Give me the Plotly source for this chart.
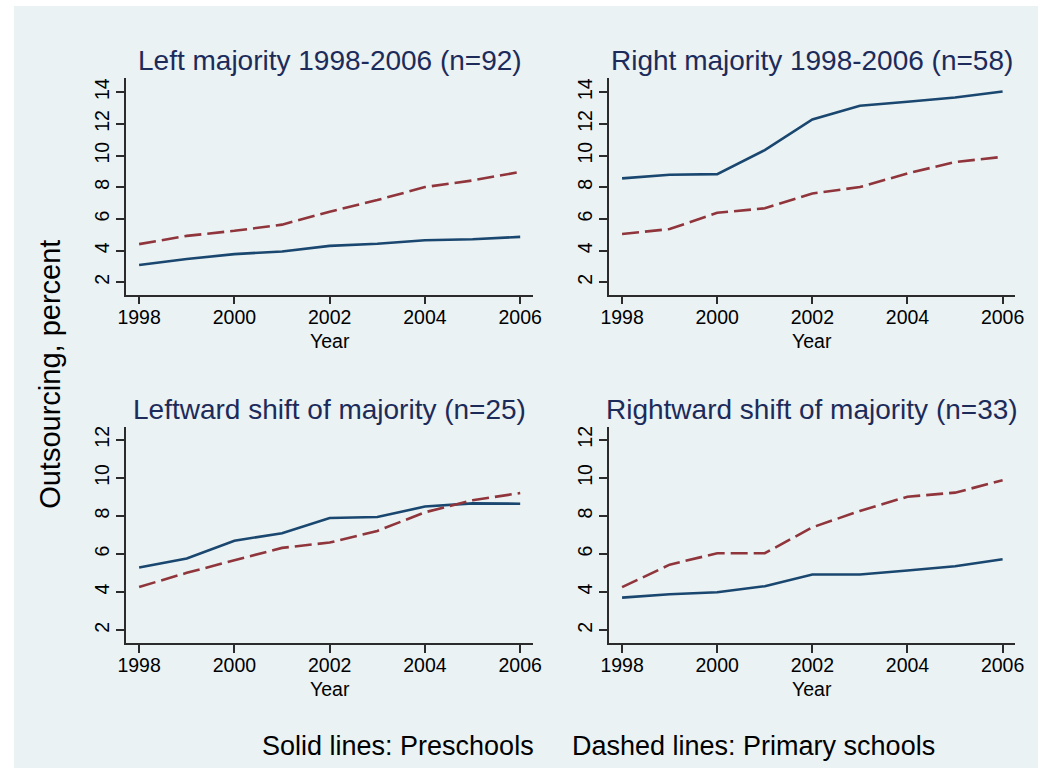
import plotly.graph_objects as go

years = [1998, 1999, 2000, 2001, 2002, 2003, 2004, 2005, 2006]

panel_titles = [
    "Left majority 1998-2006 (n=92)",
    "Right majority 1998-2006 (n=58)",
    "Leftward shift of majority (n=25)",
    "Rightward shift of majority (n=33)",
]

# Solid lines: Preschools
left_pre = [3.09, 3.47, 3.78, 3.95, 4.30, 4.43, 4.66, 4.72, 4.87]
right_pre = [8.56, 8.79, 8.83, 10.34, 12.28, 13.14, 13.39, 13.66, 14.04]
leftshift_pre = [5.29, 5.76, 6.70, 7.09, 7.89, 7.94, 8.49, 8.66, 8.64]
rightshift_pre = [3.71, 3.89, 3.99, 4.31, 4.92, 4.92, 5.13, 5.36, 5.72]

# Dashed lines: Primary schools
left_prim = [4.41, 4.93, 5.25, 5.64, 6.46, 7.19, 8.01, 8.43, 8.97]
right_prim = [5.05, 5.36, 6.39, 6.67, 7.61, 8.01, 8.87, 9.59, 9.92]
leftshift_prim = [4.27, 5.01, 5.67, 6.32, 6.60, 7.21, 8.19, 8.82, 9.20]
rightshift_prim = [4.26, 5.44, 6.04, 6.04, 7.40, 8.26, 9.01, 9.22, 9.87]

x_ticks = [1998, 2000, 2002, 2004, 2006]
y_ticks_top = [2, 4, 6, 8, 10, 12, 14]
y_ticks_bottom = [2, 4, 6, 8, 10, 12]

y_title = "Outsourcing, percent"
x_title = "Year"
footer_solid = "Solid lines: Preschools"
footer_dashed = "Dashed lines: Primary schools"

pre_series = [left_pre, right_pre, leftshift_pre, rightshift_pre]
prim_series = [left_prim, right_prim, leftshift_prim, rightshift_prim]

W, H = 1050, 771
BG = "#eaf2f3"
NAVY = "#1a476f"
MAROON = "#90353b"
TITLE_COL = "#1c2b5a"
AXIS_COL = "#2b2b2b"
FONT = "Liberation Sans, Arial, sans-serif"


def px_x(p):
    return p / W


def px_y(p):
    return 1 - p / H


# panel pixel boxes: (x0, x1, ytop, ybottom)
boxes = [
    (119.3, 533.2, 77.3, 294.0),
    (610.7, 1024.0, 77.3, 294.0),
    (119.3, 533.2, 426.7, 642.7),
    (610.7, 1024.0, 426.7, 642.7),
]
yranges = [[1.225, 14.88], [1.225, 14.88], [1.334, 12.66], [1.334, 12.66]]
yticks = [y_ticks_top, y_ticks_top, y_ticks_bottom, y_ticks_bottom]

fig = go.Figure()
layout = dict(
    width=W,
    height=H,
    margin=dict(l=0, r=0, t=0, b=0),
    paper_bgcolor="white",
    plot_bgcolor="white",
    showlegend=False,
    font=dict(family=FONT, color="black"),
)

annotations = []
for i in range(4):
    x0, x1, yt, yb = boxes[i]
    sfx = "" if i == 0 else str(i + 1)
    xa = "x" + sfx
    ya = "y" + sfx
    fig.add_trace(go.Scatter(
        x=years, y=pre_series[i], mode="lines",
        line=dict(color=NAVY, width=2.6),
        xaxis=xa, yaxis=ya,
    ))
    fig.add_trace(go.Scatter(
        x=years, y=prim_series[i], mode="lines",
        line=dict(color=MAROON, width=2.6, dash="17px,6px"),
        xaxis=xa, yaxis=ya,
    ))
    layout["xaxis" + sfx] = dict(
        domain=[px_x(x0), px_x(x1)],
        anchor=ya,
        range=[1997.73, 2006.27],
        tickvals=x_ticks,
        ticks="outside", ticklen=8, tickwidth=1.5, tickcolor=AXIS_COL,
        ticklabelstandoff=-4,
        showline=True, linecolor=AXIS_COL, linewidth=1.6,
        showgrid=False, zeroline=False,
        tickfont=dict(size=19.5, color="black", family=FONT),
    )
    layout["yaxis" + sfx] = dict(
        domain=[px_y(yb), px_y(yt)],
        anchor=xa,
        range=yranges[i],
        tickvals=yticks[i],
        tickangle=-90,
        ticks="outside", ticklen=8, tickwidth=1.5, tickcolor=AXIS_COL,
        showline=True, linecolor=AXIS_COL, linewidth=1.6,
        showgrid=True, gridcolor=BG, gridwidth=2,
        zeroline=False,
        tickfont=dict(size=19.5, color="black", family=FONT),
    )
    # panel title
    annotations.append(dict(
        text=panel_titles[i], xref="paper", yref="paper",
        x=px_x((x0 + x1) / 2), y=px_y(yt - 17.5),
        xanchor="center", yanchor="middle", showarrow=False,
        font=dict(size=28, color=TITLE_COL, family=FONT),
    ))
    # x axis title
    annotations.append(dict(
        text=x_title, xref="paper", yref="paper",
        x=px_x(x0 + (x1 - x0) / 2), y=px_y(yb + 46),
        xanchor="center", yanchor="middle", showarrow=False,
        font=dict(size=19.5, color="black", family=FONT),
    ))

annotations.append(dict(
    text=y_title, xref="paper", yref="paper",
    x=px_x(41), y=px_y(374), textangle=-90,
    xanchor="center", yanchor="middle", showarrow=False,
    font=dict(size=29, color="black", family=FONT),
))
annotations.append(dict(
    text=footer_solid, xref="paper", yref="paper",
    x=px_x(255), y=px_y(746),
    xanchor="left", yanchor="middle", showarrow=False,
    font=dict(size=27, color="black", family=FONT),
))
annotations.append(dict(
    text=footer_dashed, xref="paper", yref="paper",
    x=px_x(571), y=px_y(746),
    xanchor="left", yanchor="middle", showarrow=False,
    font=dict(size=27, color="black", family=FONT),
))

layout["annotations"] = annotations
layout["shapes"] = [dict(
    type="rect", xref="paper", yref="paper",
    x0=px_x(5), x1=px_x(1047), y0=px_y(768), y1=px_y(5),
    fillcolor=BG, line=dict(width=0), layer="below",
)]

fig.update_layout(**layout)
fig.write_html(
    "out.html",
    config={"displayModeBar": False},
    post_script="document.body.style.margin='0';document.body.style.overflow='hidden';",
)
